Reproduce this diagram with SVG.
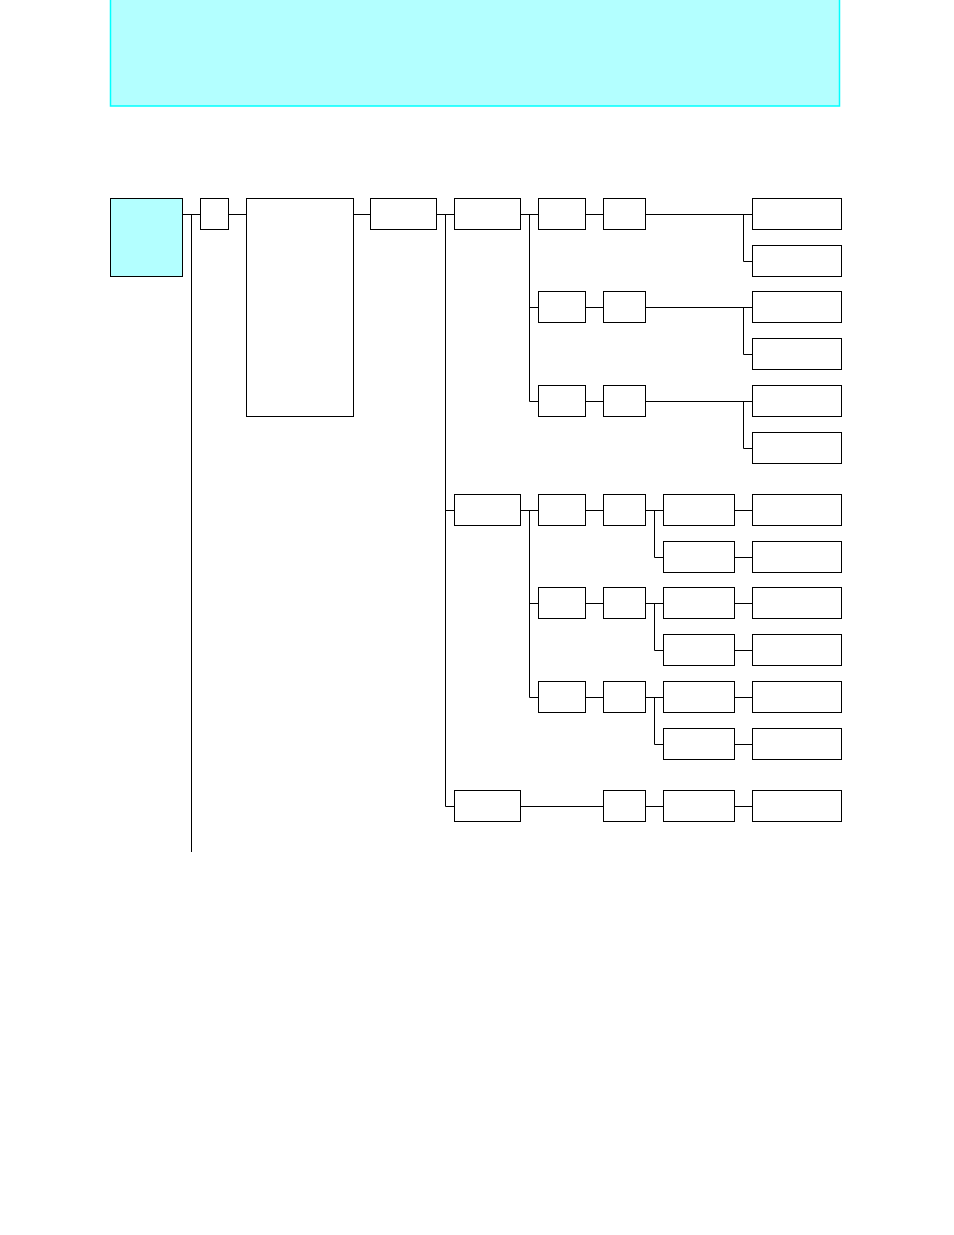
<svg xmlns="http://www.w3.org/2000/svg" width="954" height="1235" viewBox="0 0 954 1235">
<style>
.n{fill:#fff;stroke:#000;stroke-width:1}
.c{fill:none;stroke:#000;stroke-width:1}
.hl{fill:#b3ffff;stroke:#000;stroke-width:1}
</style>
<rect width="954" height="1235" fill="#fff"/>
<g id="header"><rect x="110.5" y="-2" width="729" height="108" fill="#b3ffff" stroke="#00ffff" stroke-width="1.5"/></g>
<g id="connectors">
<path class="c" d="M182.5 214.5H200.5M191.5 214.5V852M228.5 214.5H246.5M353.5 214.5H370.5M436.5 214.5H454.5M445.5 214.5V806.5H454.5M445.5 510.5H454.5"/>
<path class="c" d="M520.5 214.5H538.5M529.5 214.5V401.5H538.5M529.5 307.5H538.5"/>
<path class="c" d="M585.5 214.5H603.5M645.5 214.5H752.5M743.5 214.5V261.5H752.5"/>
<path class="c" d="M585.5 307.5H603.5M645.5 307.5H752.5M743.5 307.5V354.5H752.5"/>
<path class="c" d="M585.5 401.5H603.5M645.5 401.5H752.5M743.5 401.5V448.5H752.5"/>
<path class="c" d="M520.5 510.5H538.5M529.5 510.5V697.5H538.5M529.5 603.5H538.5"/>
<path class="c" d="M585.5 510.5H603.5M645.5 510.5H663.5M654.5 510.5V557.5H663.5M734.5 510.5H752.5M734.5 557.5H752.5"/>
<path class="c" d="M585.5 603.5H603.5M645.5 603.5H663.5M654.5 603.5V650.5H663.5M734.5 603.5H752.5M734.5 650.5H752.5"/>
<path class="c" d="M585.5 697.5H603.5M645.5 697.5H663.5M654.5 697.5V744.5H663.5M734.5 697.5H752.5M734.5 744.5H752.5"/>
<path class="c" d="M520.5 806.5H603.5M645.5 806.5H663.5M734.5 806.5H752.5"/>
</g>
<g id="root"><rect class="hl" x="110.5" y="198.5" width="72" height="78"/></g>
<g id="n1"><rect class="n" x="200.5" y="198.5" width="28" height="31"/></g>
<g id="n2"><rect class="n" x="246.5" y="198.5" width="107" height="218"/></g>
<g id="n3"><rect class="n" x="370.5" y="198.5" width="66" height="31"/></g>
<g id="a"><rect class="n" x="454.5" y="198.5" width="66" height="31"/></g>
<g id="a1"><rect class="n" x="538.5" y="198.5" width="47" height="31"/></g>
<g id="a1b"><rect class="n" x="603.5" y="198.5" width="42" height="31"/></g>
<g id="a1c"><rect class="n" x="752.5" y="198.5" width="89" height="31"/></g>
<g id="a1d"><rect class="n" x="752.5" y="245.5" width="89" height="31"/></g>
<g id="a2"><rect class="n" x="538.5" y="291.5" width="47" height="31"/></g>
<g id="a2b"><rect class="n" x="603.5" y="291.5" width="42" height="31"/></g>
<g id="a2c"><rect class="n" x="752.5" y="291.5" width="89" height="31"/></g>
<g id="a2d"><rect class="n" x="752.5" y="338.5" width="89" height="31"/></g>
<g id="a3"><rect class="n" x="538.5" y="385.5" width="47" height="31"/></g>
<g id="a3b"><rect class="n" x="603.5" y="385.5" width="42" height="31"/></g>
<g id="a3c"><rect class="n" x="752.5" y="385.5" width="89" height="31"/></g>
<g id="a3d"><rect class="n" x="752.5" y="432.5" width="89" height="31"/></g>
<g id="b"><rect class="n" x="454.5" y="494.5" width="66" height="31"/></g>
<g id="b1"><rect class="n" x="538.5" y="494.5" width="47" height="31"/></g>
<g id="b1b"><rect class="n" x="603.5" y="494.5" width="42" height="31"/></g>
<g id="b1c"><rect class="n" x="663.5" y="494.5" width="71" height="31"/></g>
<g id="b1d"><rect class="n" x="752.5" y="494.5" width="89" height="31"/></g>
<g id="b1e"><rect class="n" x="663.5" y="541.5" width="71" height="31"/></g>
<g id="b1f"><rect class="n" x="752.5" y="541.5" width="89" height="31"/></g>
<g id="b2"><rect class="n" x="538.5" y="587.5" width="47" height="31"/></g>
<g id="b2b"><rect class="n" x="603.5" y="587.5" width="42" height="31"/></g>
<g id="b2c"><rect class="n" x="663.5" y="587.5" width="71" height="31"/></g>
<g id="b2d"><rect class="n" x="752.5" y="587.5" width="89" height="31"/></g>
<g id="b2e"><rect class="n" x="663.5" y="634.5" width="71" height="31"/></g>
<g id="b2f"><rect class="n" x="752.5" y="634.5" width="89" height="31"/></g>
<g id="b3"><rect class="n" x="538.5" y="681.5" width="47" height="31"/></g>
<g id="b3b"><rect class="n" x="603.5" y="681.5" width="42" height="31"/></g>
<g id="b3c"><rect class="n" x="663.5" y="681.5" width="71" height="31"/></g>
<g id="b3d"><rect class="n" x="752.5" y="681.5" width="89" height="31"/></g>
<g id="b3e"><rect class="n" x="663.5" y="728.5" width="71" height="31"/></g>
<g id="b3f"><rect class="n" x="752.5" y="728.5" width="89" height="31"/></g>
<g id="c"><rect class="n" x="454.5" y="790.5" width="66" height="31"/></g>
<g id="c1"><rect class="n" x="603.5" y="790.5" width="42" height="31"/></g>
<g id="c2"><rect class="n" x="663.5" y="790.5" width="71" height="31"/></g>
<g id="c3"><rect class="n" x="752.5" y="790.5" width="89" height="31"/></g>
</svg>
